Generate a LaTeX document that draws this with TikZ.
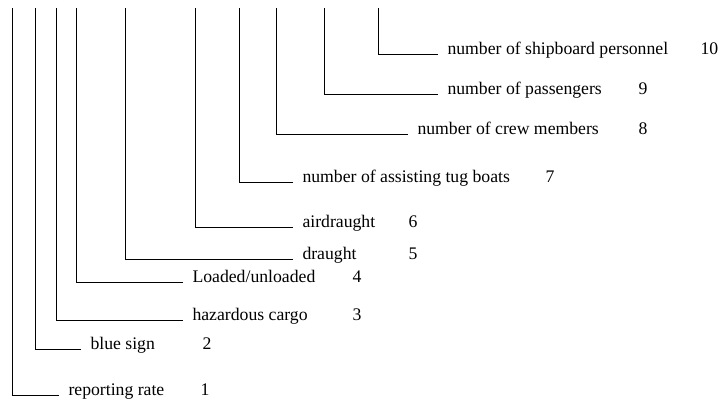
\documentclass[tikz,border=0pt]{standalone}
\usepackage{fontspec}
\setmainfont{Liberation Serif}
\begin{document}
\begin{tikzpicture}[x=1pt, y=-1pt, line width=1pt, every node/.style={anchor=base west, inner ysep=0pt, font=\fontsize{17.7}{20}\selectfont}, lbl/.style={inner xsep=9pt}, num/.style={inner xsep=0pt}]
			\useasboundingbox (0,0) rectangle (720,403);
			\coordinate (top1) at (12,8);
			\coordinate (top2) at (35,8);
			\coordinate (top3) at (56,8);
			\coordinate (top4) at (76,8);
			\coordinate (top5) at (125,8);
			\coordinate (top6) at (195,8);
			\coordinate (top7) at (239,8);
			\coordinate (top8) at (276,8);
			\coordinate (top9) at (324,8);
			\coordinate (top10) at (378,8);
			\node [lbl] (lab1) at (59,395) {reporting rate};
			\node [lbl] (lab2) at (81,349) {blue sign};
			\node [lbl] (lab3) at (183,320) {hazardous cargo};
			\node [lbl] (lab4) at (183,283) {Loaded/unloaded};
			\node [lbl] (lab5) at (293,260) {draught};
			\node [lbl] (lab6) at (293,228) {airdraught};
			\node [lbl] (lab7) at (293,183) {number of assisting tug boats};
			\node [lbl] (lab8) at (408,135) {number of crew members};
			\node [lbl] (lab9) at (438,95) {number of passengers};
			\node [lbl] (lab10) at (438,55) {number of shipboard personnel};
			\node [num] (num1) at (200,395) {1};
			\node [num] (num2) at (202,349) {2};
			\node [num] (num3) at (352,320) {3};
			\node [num] (num4) at (352,283) {4};
			\node [num] (num5) at (408,260) {5};
			\node [num] (num6) at (408,228) {6};
			\node [num] (num7) at (545,183) {7};
			\node [num] (num8) at (638,135) {8};
			\node [num] (num9) at (638,95) {9};
			\node [num] (num10) at (700,55) {10};
			\draw (top1) |- (lab1.base west);
			\draw (top2) |- (lab2.base west);
			\draw (top3) |- (lab3.base west);
			\draw (top4) |- (lab4.base west);
			\draw (top5) |- (lab5.base west);
			\draw (top6) |- (lab6.base west);
			\draw (top7) |- (lab7.base west);
			\draw (top8) |- (lab8.base west);
			\draw (top9) |- (lab9.base west);
			\draw (top10) |- (lab10.base west);
		\end{tikzpicture}
\end{document}
